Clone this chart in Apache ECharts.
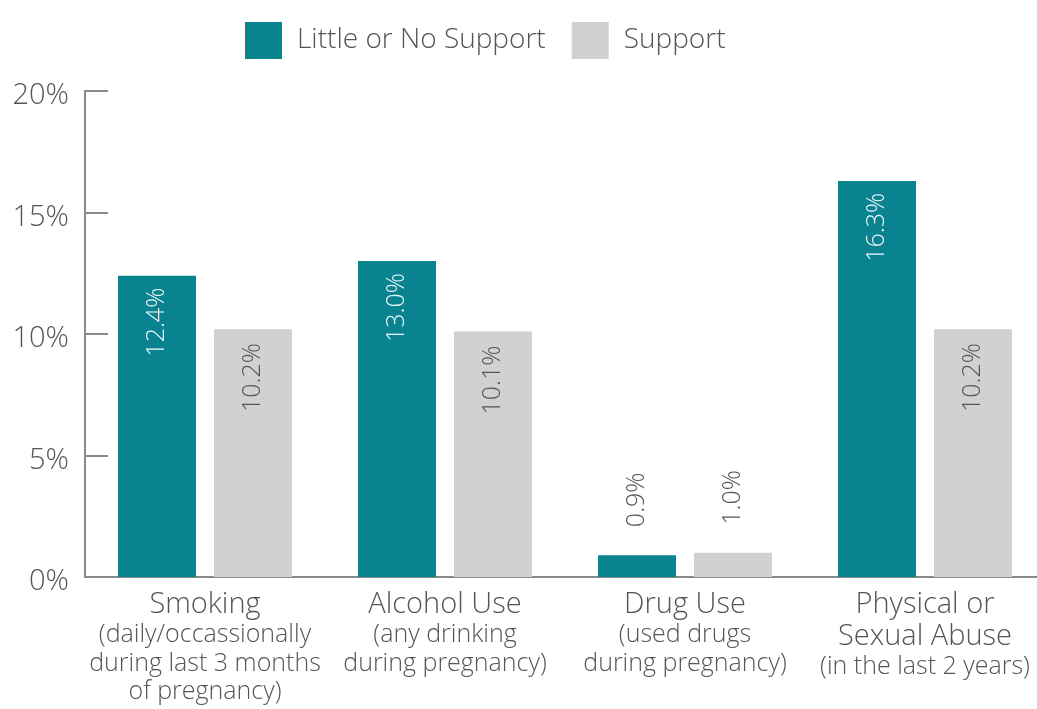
<!DOCTYPE html>
<html>
<head>
<meta charset="utf-8">
<script src="https://cdn.jsdelivr.net/npm/echarts@6/dist/echarts.min.js"></script>
<style>html,body{margin:0;padding:0;background:#fff}#c{width:1037px;height:709px}</style>
</head>
<body>
<div id="c"></div>
<script>
const categoryTitles = ["Smoking", "Alcohol Use", "Drug Use", "Physical or\nSexual Abuse"];
const categorySubtitles = ["(daily/occassionally\nduring last 3 months\nof pregnancy)", "(any drinking\nduring pregnancy)", "(used drugs\nduring pregnancy)", "(in the last 2 years)"];
const seriesNames = ["Little or No Support", "Support"];
const littleSupport = [12.4, 13.0, 0.9, 16.3];
const support = [10.2, 10.1, 1.0, 10.2];
const yTicks = [0, 5, 10, 15, 20];

const FONT = '"Open Sans", Lato, sans-serif';
const TEXT = '#555555';
const TEAL = '#0a8390';
const GRAY = '#d1d1d3';

function richLabel(t, s) {
  return t.split('\n').map(l => '{a|' + l + '}').join('\n') + '\n' + s.split('\n').map(l => '{b|' + l + '}').join('\n');
}
const categories = categoryTitles.map((t, i) => richLabel(t, categorySubtitles[i]));

function buildData(vals, insideColor) {
  return vals.map(v => {
    if (v < 3) {
      return { value: v, label: { position: 'top', align: 'left', verticalAlign: 'middle', distance: 28, color: TEXT } };
    }
    return { value: v, label: { color: insideColor } };
  });
}

const chart = echarts.init(document.getElementById('c'));
chart.setOption({
  animation: false,
  textStyle: { fontFamily: FONT },
  legend: {
    left: 240, top: 17,
    itemWidth: 37, itemHeight: 37, itemGap: 26,
    icon: 'rect',
    textStyle: { fontFamily: FONT, fontSize: 28, color: TEXT, fontWeight: 300, padding: [0, 0, 0, 10] },
    data: seriesNames
  },
  grid: { left: 85, width: 960, top: 91, bottom: 132, outerBoundsMode: 'none', containLabel: false },
  xAxis: {
    type: 'category',
    data: categories,
    axisLine: { lineStyle: { color: '#8a8a8a', width: 2 } },
    axisTick: { inside: true, length: 13, lineStyle: { color: '#8a8a8a', width: 1.5 } },
    axisLabel: {
      interval: 0, margin: 12, color: TEXT,
      rich: {
        a: { fontFamily: FONT, fontSize: 29, fontWeight: 300, color: TEXT, lineHeight: 32 },
        b: { fontFamily: FONT, fontSize: 25, fontWeight: 300, color: TEXT, lineHeight: 28.5 }
      }
    }
  },
  yAxis: {
    type: 'value', min: yTicks[0], max: yTicks[yTicks.length - 1], interval: yTicks[1] - yTicks[0],
    splitLine: { show: false },
    axisLine: { show: true, lineStyle: { color: '#8a8a8a', width: 2 } },
    axisTick: { show: true, inside: true, length: 23, lineStyle: { color: '#8a8a8a', width: 2 } },
    axisLabel: { formatter: '{value}%', fontFamily: FONT, fontSize: 29, fontWeight: 300, color: TEXT, margin: 16, verticalAlign: 'top', lineHeight: 10 }
  },
  series: [
    {
      name: seriesNames[0], type: 'bar', data: buildData(littleSupport, '#eef7f8'),
      itemStyle: { color: TEAL }, barWidth: 78, barGap: '23%',
      label: { show: true, rotate: 90, position: 'insideTop', align: 'right', verticalAlign: 'middle', distance: 12,
        fontFamily: FONT, fontSize: 25, fontWeight: 300, formatter: p => p.value.toFixed(1) + '%' }
    },
    {
      name: seriesNames[1], type: 'bar', data: buildData(support, '#555'),
      itemStyle: { color: GRAY }, barWidth: 78, barGap: '23%',
      label: { show: true, rotate: 90, position: 'insideTop', align: 'right', verticalAlign: 'middle', distance: 14,
        fontFamily: FONT, fontSize: 25, fontWeight: 300, formatter: p => p.value.toFixed(1) + '%' }
    }
  ]
});
</script>
</body>
</html>
